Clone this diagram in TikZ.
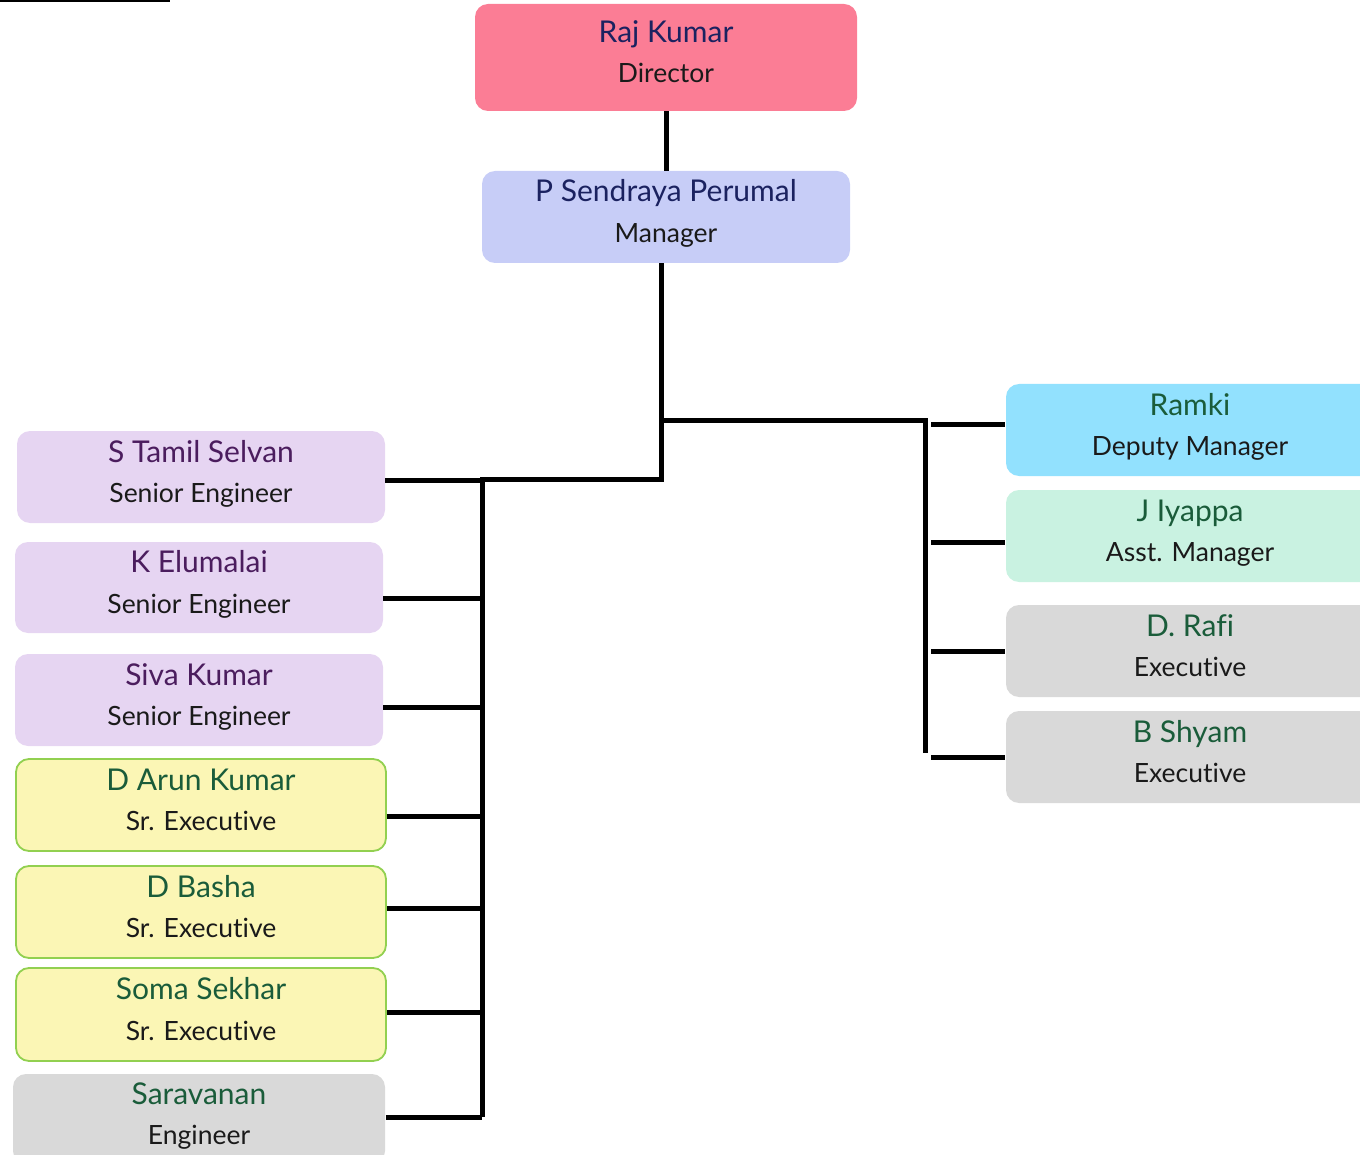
\documentclass[tikz,border=0pt]{standalone}
\usepackage{fontspec}
\setmainfont{Lato}[Ligatures=NoCommon]
\definecolor{pinkf}{HTML}{FB7D95}
\definecolor{mgrf}{HTML}{C7CDF7}
\definecolor{lavf}{HTML}{E6D5F2}
\definecolor{yelf}{HTML}{FBF6B5}
\definecolor{yeld}{HTML}{92D050}
\definecolor{greyf}{HTML}{D9D9D9}
\definecolor{cyanf}{HTML}{92E1FE}
\definecolor{mintf}{HTML}{C9F2E1}
\definecolor{navyt}{HTML}{1B2260}
\definecolor{purpt}{HTML}{4B1D5E}
\definecolor{greent}{HTML}{1A5C3A}
\definecolor{subt}{HTML}{1A1A1A}
\newcommand\emp[9]{%
  \node[box, fill=#6, minimum width=#4pt, minimum height=#5pt] (#1) at (#2,#3) {};
  \path (#1.center) ++(0,-15) node[namef, text=#7] {#8} ++(0,40.5) node[titlef] {#9};}
\begin{document}
\begin{tikzpicture}[x=1pt,y=-1pt,
  box/.style={rectangle, rounded corners=13pt, inner sep=0pt, draw=none},
  ybox/.style={draw=yeld, line width=1.8pt},
  namef/.style={anchor=base, inner sep=0pt, font=\fontsize{30}{34}\selectfont},
  titlef/.style={anchor=base, inner sep=0pt, text=subt, font=\fontsize{26.5}{30}\selectfont},
  conn/.style={draw=black, line width=5pt, line join=miter}]
\useasboundingbox (0,0) rectangle (1360,1155);
\draw[line width=1.5pt] (0,1) -- (170,1);
% top
\emp{raj}{666}{57.5}{382}{107}{pinkf}{navyt}{Raj Kumar}{Director}
\emp{mgr}{666}{217}{368}{92}{mgrf}{navyt}{P Sendraya Perumal}{Manager}
% left column
\emp{tamil}{201}{477}{368}{92}{lavf}{purpt}{S Tamil Selvan}{Senior Engineer}
\emp{elu}{199}{587.5}{368}{91}{lavf}{purpt}{K Elumalai}{Senior Engineer}
\emp{siva}{199}{700}{368}{92}{lavf}{purpt}{Siva Kumar}{Senior Engineer}
\tikzset{box/.append style={ybox}}
\emp{arun}{201}{805}{370}{92}{yelf}{greent}{D Arun Kumar}{Sr. Executive}
\emp{basha}{201}{912}{370}{92}{yelf}{greent}{D Basha}{Sr. Executive}
\emp{soma}{201}{1014.5}{370}{93}{yelf}{greent}{Soma Sekhar}{Sr. Executive}
\tikzset{box/.append style={draw=none}}
\emp{sarav}{199}{1119}{372}{90}{greyf}{greent}{Saravanan}{Engineer}
% right column
\emp{ramki}{1190}{430}{368}{92}{cyanf}{greent}{Ramki}{Deputy Manager}
\emp{iyappa}{1190}{536}{368}{92}{mintf}{greent}{J Iyappa}{Asst. Manager}
\emp{rafi}{1190}{651}{368}{92}{greyf}{greent}{D. Rafi}{Executive}
\emp{shyam}{1190}{757}{368}{92}{greyf}{greent}{B Shyam}{Executive}
% connectors
\coordinate (j1) at (661,479);
\coordinate (lb) at (482,479);
\coordinate (lend) at (482,1117);
\coordinate (rj0) at (661,420);
\coordinate (rj) at (925,420);
\coordinate (rend) at (925,753);
\draw[conn] (raj) -- (mgr);
\draw[conn] (mgr.south -| j1) -- (j1) -- (lb) -- (lend);
\draw[conn] (rj0) -- (rj) -- (rend);
\foreach \n/\yy in {tamil/480, elu/598, siva/707, arun/816, basha/908, soma/1012, sarav/1117}
  \draw[conn] (\n.east |- 0,\yy) -- (lb |- 0,\yy);
\foreach \n/\yy in {ramki/424, iyappa/542, rafi/651, shyam/757}
  \draw[conn] (931,\yy) -- (\n.west |- 0,\yy);
\end{tikzpicture}
\end{document}
